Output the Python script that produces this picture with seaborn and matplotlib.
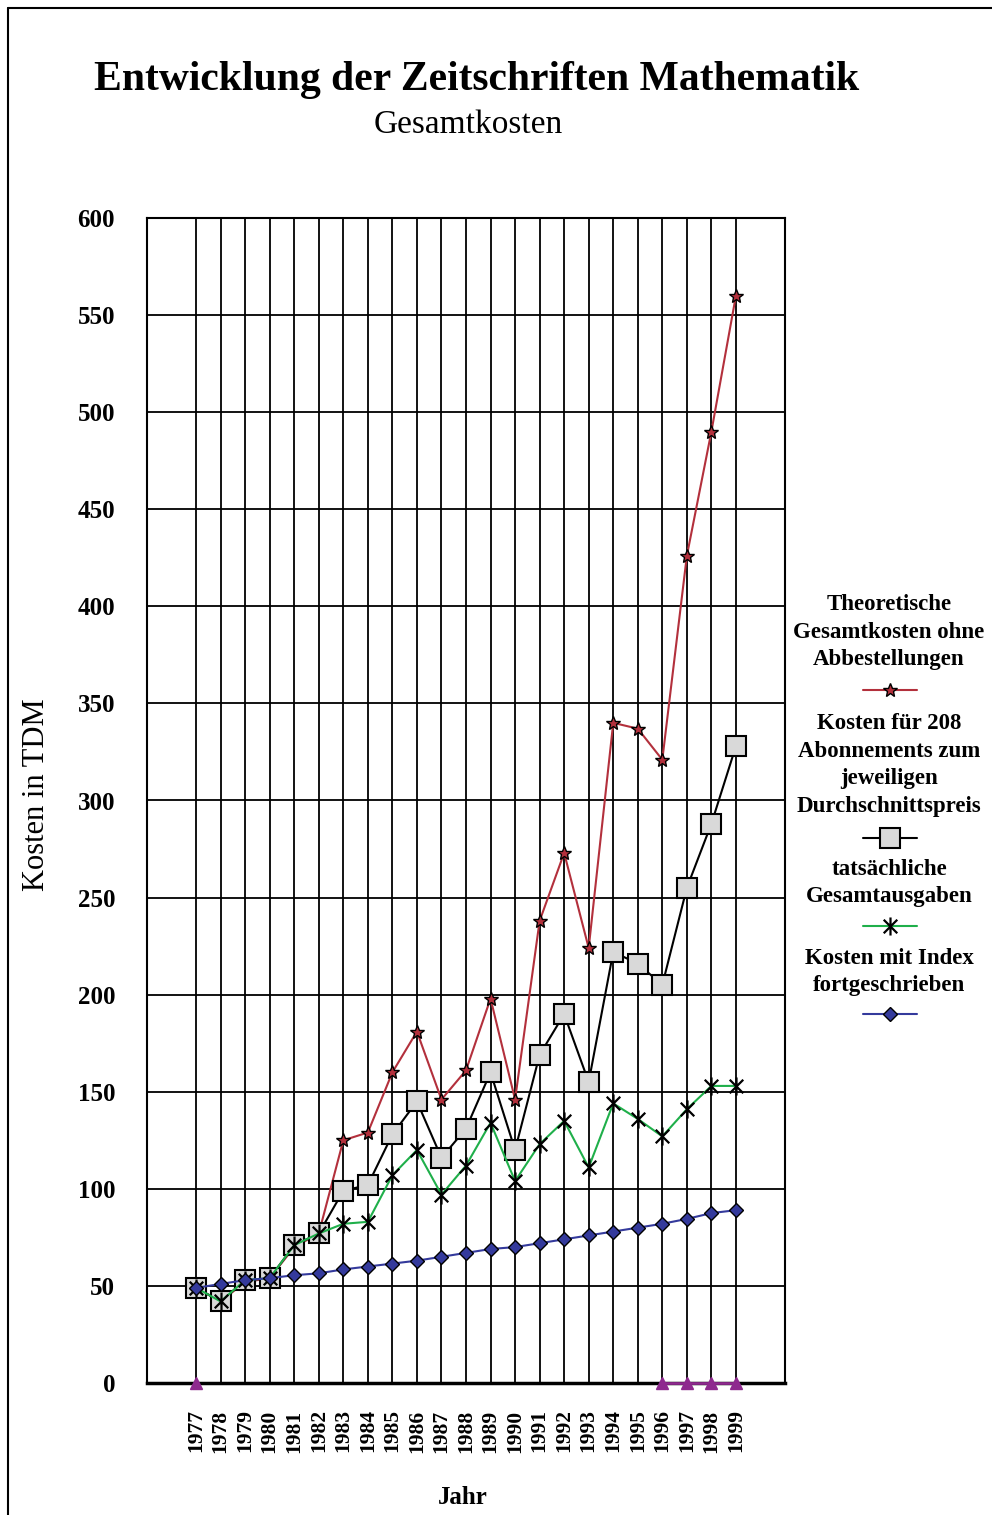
import numpy as np
import pandas as pd
import matplotlib
matplotlib.use("Agg")
import matplotlib.pyplot as plt
from matplotlib.path import Path
import seaborn as sns

# --------------------------------------------
# Data
# --------------------------------------------
years = list(range(1977, 2000))

theoretisch = [49, 42, 52, 54, 70, 77, 125, 129, 160, 181, 146, 161, 198,
               146, 238, 273, 224, 340, 337, 321, 426, 490, 560]
abonnements = [49, 42, 53, 54, 71, 77, 99, 102, 128, 145, 116, 131, 160,
               120, 169, 190, 155, 222, 216, 205, 255, 288, 328]
tatsaechlich = [49, 42, 53, 54, 71, 77, 82, 83, 107, 120, 97, 112, 134,
                104, 123, 135, 111, 144, 136, 127, 141, 153, 153]
index_kosten = [49, 51, 53, 54, 55.5, 56.5, 58.5, 60, 61.5, 63, 65, 67, 69,
                70, 72, 74, 76, 78, 80, 82, 84.5, 87.5, 89]
null_werte = [0] + [np.nan] * 18 + [0, 0, 0, 0]

legend_labels = [
    "Theoretische\nGesamtkosten ohne\nAbbestellungen",
    "Kosten für 208\nAbonnements zum\njeweiligen\nDurchschnittspreis",
    "tatsächliche\nGesamtausgaben",
    "Kosten mit Index\nfortgeschrieben",
]

df = pd.DataFrame({
    "Jahr": years,
    "theoretisch": theoretisch,
    "abonnements": abonnements,
    "tatsaechlich": tatsaechlich,
    "index": index_kosten,
})

# --------------------------------------------
# Style
# --------------------------------------------
sns.set_style("white")
plt.rcParams["font.family"] = ["Liberation Serif", "DejaVu Serif"]
plt.rcParams["text.color"] = "black"
plt.rcParams["axes.labelcolor"] = "black"
plt.rcParams["xtick.color"] = "black"
plt.rcParams["ytick.color"] = "black"

RED = "#B3303C"
GREEN = "#1FAF4A"
BLUE = "#343A9C"
PURPLE = "#8E2A8E"
GREY = "#D9D9D9"

# asterisk marker: vertical bar + X
asterisk = Path(
    [(0, -1), (0, 1), (-0.75, -0.75), (0.75, 0.75), (-0.75, 0.75), (0.75, -0.75)],
    [Path.MOVETO, Path.LINETO, Path.MOVETO, Path.LINETO, Path.MOVETO, Path.LINETO],
)

styles = [
    dict(color=RED, lw=1.5, marker="*", ms=10, mfc=RED, mec="black", mew=1.0),
    dict(color="black", lw=1.5, marker="s", ms=14, mfc=GREY, mec="black", mew=1.5),
    dict(color=GREEN, lw=1.5, marker=asterisk, ms=13, mfc="none", mec="black", mew=1.6),
    dict(color=BLUE, lw=1.5, marker="D", ms=7, mfc=BLUE, mec="black", mew=1.0),
]
cols = ["theoretisch", "abonnements", "tatsaechlich", "index"]

fig = plt.figure(figsize=(9.92, 15.15), dpi=100)
ax = fig.add_axes([147 / 992, 1 - 1383 / 1515, 638 / 992, 1165 / 1515])

# --------------------------------------------
# Lines
# --------------------------------------------
for col, st in zip(cols, styles):
    sns.lineplot(data=df, x="Jahr", y=col, ax=ax, estimator=None,
                 zorder=3, clip_on=False, **st)

ax.plot(years, null_werte, color=PURPLE, lw=2, marker="^", ms=9,
        mfc=PURPLE, mec=PURPLE, zorder=4, clip_on=False)

# --------------------------------------------
# Axes
# --------------------------------------------
ax.set_xlim(1975, 2001)
ax.set_ylim(0, 600)
ax.set_xticks(years)
ax.set_xticklabels([str(y) for y in years], rotation=90)
ax.set_yticks(range(0, 601, 50))
ax.grid(True, color="black", lw=1.3)
ax.set_axisbelow(True)
ax.tick_params(axis="x", length=0, pad=19, labelsize=15.5)
ax.tick_params(axis="y", length=0, pad=23, labelsize=18)
for lab in ax.get_xticklabels() + ax.get_yticklabels():
    lab.set_fontweight("bold")
for s in ["left", "top", "right"]:
    ax.spines[s].set_color("black")
    ax.spines[s].set_linewidth(1.5)
ax.spines["bottom"].set_color("black")
ax.spines["bottom"].set_linewidth(2.5)

ax.set_xlabel("Jahr", fontsize=18, fontweight="bold")
ax.xaxis.set_label_coords(0.495, -0.088)
ax.set_ylabel("")

# --------------------------------------------
# Titles, y label, legend, frame (figure pixel coords)
# --------------------------------------------
ov = fig.add_axes([0, 0, 1, 1], zorder=-1)
ov.set_xlim(0, 992)
ov.set_ylim(1515, 0)
ov.axis("off")

ov.text(477, 80, "Entwicklung der Zeitschriften Mathematik", fontsize=30,
        fontweight="bold", ha="center", va="center")
ov.text(468, 125, "Gesamtkosten", fontsize=24, ha="center", va="center")
ov.text(37, 795, "Kosten in TDM", fontsize=22, rotation=90,
        ha="center", va="center")

text_centers = [632, 765, 883, 972]
handle_y = [690, 838, 926, 1014]
for lab, ty, hy, st in zip(legend_labels, text_centers, handle_y, styles):
    ov.text(889, ty, lab, fontsize=16.5, fontweight="bold", ha="center",
            va="center", linespacing=1.4, multialignment="center")
    ov.plot([863, 917], [hy, hy], color=st["color"], lw=st["lw"])
    ov.plot([890], [hy], linestyle="none", marker=st["marker"], ms=st["ms"],
            mfc=st["mfc"], mec=st["mec"], mew=st["mew"])

ov.plot([8, 8], [8, 1515], color="black", lw=1.5)
ov.plot([8, 992], [8, 8], color="black", lw=1.5)

fig.savefig("out.png", dpi=100)
print("Completed Successfully!")
